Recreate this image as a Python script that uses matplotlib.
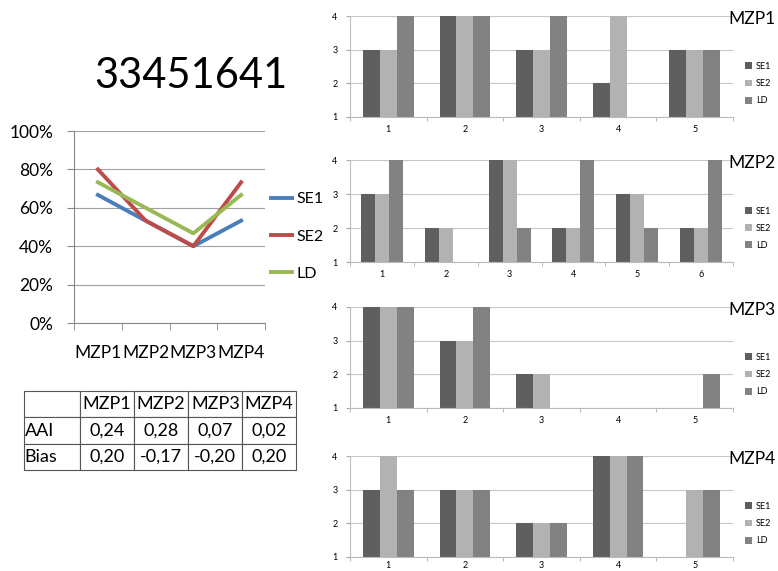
import matplotlib.pyplot as plt
import numpy as np

plt.rcParams['font.family'] = ['Lato', 'DejaVu Sans']

# line chart data (share of agreement per MZP)
mzp_labels = ['MZP1', 'MZP2', 'MZP3', 'MZP4']
se1_line = [0.667, 0.533, 0.400, 0.533]
se2_line = [0.800, 0.533, 0.400, 0.733]
ld_line = [0.733, 0.600, 0.467, 0.667]

# table data
row_labels = ['AAI', 'Bias']
aai_vals = ['0,24', '0,28', '0,07', '0,02']
bias_vals = ['0,20', '-0,17', '-0,20', '0,20']

# bar chart data, per MZP: SE1, SE2, LD
mzp1_se1 = [3, 4, 3, 2, 3]
mzp1_se2 = [3, 4, 3, 4, 3]
mzp1_ld = [4, 4, 4, 1, 3]
mzp2_se1 = [3, 2, 4, 2, 3, 2]
mzp2_se2 = [3, 2, 4, 2, 3, 2]
mzp2_ld = [4, 1, 2, 4, 2, 4]
mzp3_se1 = [4, 3, 2, 1, 1]
mzp3_se2 = [4, 3, 2, 1, 1]
mzp3_ld = [4, 4, 1, 1, 2]
mzp4_se1 = [3, 3, 2, 4, 1]
mzp4_se2 = [4, 3, 2, 4, 3]
mzp4_ld = [3, 3, 2, 4, 3]

W, H = 778, 571
fig = plt.figure(figsize=(W / 100, H / 100), dpi=100)


def box(x0, y0, x1, y1):
    # pixel box (top-left origin) -> figure fraction
    return [x0 / W, 1 - y1 / H, (x1 - x0) / W, (y1 - y0) / H]


fig.text(191 / W, 1 - 76 / H, '33451641', fontsize=30, ha='center', va='center')

# ---- line chart
ax = fig.add_axes(box(74, 131, 265, 323))
x = np.arange(len(mzp_labels))
ax.plot(x, se1_line, color='#4a7ebb', lw=2.8, label='SE1')
ax.plot(x, se2_line, color='#be4b48', lw=2.8, label='SE2')
ax.plot(x, ld_line, color='#98b954', lw=2.8, label='LD')
ax.set_xlim(-0.5, 3.5)
ax.set_ylim(0, 1)
ax.set_yticks(np.arange(0, 1.01, 0.2))
ax.set_yticklabels([f'{int(round(v * 100))}%' for v in np.arange(0, 1.01, 0.2)], fontsize=12.5)
ax.set_xticks(x)
ax.set_xticklabels(mzp_labels, fontsize=12.5)
ax.set_xticks(np.arange(-0.5, 3.6, 1), minor=True)
ax.tick_params(axis='x', which='major', length=0, pad=16)
ax.tick_params(axis='x', which='minor', length=5, color='#888888')
ax.tick_params(axis='y', length=5, color='#888888', pad=10)
ax.grid(axis='y', color='#a0a0a0', lw=0.8)
for s in ['top', 'right']:
    ax.spines[s].set_visible(False)
for s in ['left', 'bottom']:
    ax.spines[s].set_color('#888888')
ax.legend(loc='center left', bbox_to_anchor=(1.0, 0.45), frameon=False, fontsize=11.5,
          borderaxespad=0, handlelength=1.3, handletextpad=0.3, labelspacing=1.45)

# ---- table
tax = fig.add_axes(box(24, 391, 296, 470))
tax.axis('off')
cells = [[''] + mzp_labels, [row_labels[0]] + aai_vals, [row_labels[1]] + bias_vals]
col_w = [56, 54, 55, 54, 54]
tbl = tax.table(cellText=cells, bbox=[0, 0, 1, 1], colWidths=[c / sum(col_w) for c in col_w],
                cellLoc='center')
tbl.auto_set_font_size(False)
for (r, c), cell in tbl.get_celld().items():
    cell.set_fontsize(13)
    cell.set_edgecolor('#555555')
    cell.set_linewidth(0.8)
    if c == 0:
        cell.set_text_props(ha='left')
        cell.PAD = 0.01

# ---- bar charts
bar_sets = [
    ('MZP1', [mzp1_se1, mzp1_se2, mzp1_ld], 16, 117),
    ('MZP2', [mzp2_se1, mzp2_se2, mzp2_ld], 160, 262),
    ('MZP3', [mzp3_se1, mzp3_se2, mzp3_ld], 307, 408),
    ('MZP4', [mzp4_se1, mzp4_se2, mzp4_ld], 456, 557),
]
bar_colors = ['#5f5f5f', '#b2b2b2', '#828282']
series_names = ['SE1', 'SE2', 'LD']

for name, series, ytop, ybot in bar_sets:
    bx = fig.add_axes(box(350, ytop, 733, ybot))
    n = len(series[0])
    cx = np.arange(n)
    bw = 0.22
    for i, (vals, col, lab) in enumerate(zip(series, bar_colors, series_names)):
        v = np.array(vals, dtype=float)
        bx.bar(cx + (i - 1) * bw, v - 1, bottom=1, width=bw, color=col, label=lab, zorder=2)
    bx.set_xlim(-0.5, n - 0.5)
    bx.set_ylim(1, 4)
    bx.set_yticks([1, 2, 3, 4])
    bx.set_xticks(cx)
    bx.set_xticklabels([str(i + 1) for i in cx], fontsize=6.5)
    bx.set_xticks(np.arange(-0.5, n, 1), minor=True)
    # last chart sits at the bottom edge, keep its labels inside the figure
    bx.tick_params(axis='x', which='major', length=0, pad=3 if ybot > 550 else 6)
    bx.tick_params(axis='x', which='minor', length=3, color='#aaaaaa')
    bx.tick_params(axis='y', labelsize=6.5, length=3, color='#aaaaaa', pad=6)
    bx.grid(axis='y', color='#c8c8c8', lw=0.8, zorder=0)
    for s in ['top', 'right']:
        bx.spines[s].set_visible(False)
    for s in ['left', 'bottom']:
        bx.spines[s].set_color('#bbbbbb')
    bx.legend(loc='center left', bbox_to_anchor=(1.01, 0.33), frameon=False, fontsize=6.5,
              handlelength=0.8, handleheight=0.8, handletextpad=0.4, labelspacing=0.9)
    fig.text(752 / W, 1 - (ytop + 3) / H, name, fontsize=12.5, ha='center', va='center')

fig.savefig('out.png', dpi=100)
